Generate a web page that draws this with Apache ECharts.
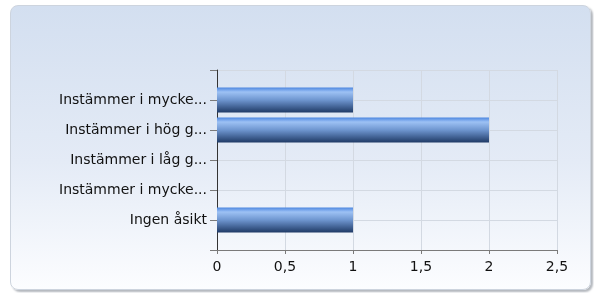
<!DOCTYPE html>
<html>
<head>
<meta charset="utf-8">
<script src="https://cdn.jsdelivr.net/npm/echarts@6/dist/echarts.min.js"></script>
<style>
    html, body { margin: 0; padding: 0; background: #fff; }
    #panel {
        position: absolute; left: 10px; top: 5px; width: 579px; height: 283px;
        border: 1px solid #cdd4de; border-radius: 8px;
        background: linear-gradient(to bottom, #d3dff0 0%, #e4ebf6 55%, #fcfdff 100%);
        box-shadow: 2px 2px 2px #b4b8be;
    }
    #chart { position: absolute; left: 0; top: 0; width: 594px; height: 293px; }
</style>
</head>
<body>
<div id="panel"></div>
<div id="chart"></div>
<script type="text/javascript">
    // kategorier (tomma platser överst/underst ger luft som i originalet)
    var categories = ['', 'Instämmer i mycke...', 'Instämmer i hög g...', 'Instämmer i låg g...', 'Instämmer i mycke...', 'Ingen åsikt', ''];
    var values = ['-', 1, 2, 0, 0, 1, '-'];
    var xTicks = ['0', '0,5', '1', '1,5', '2', '2,5'];

    var chart = echarts.init(document.getElementById('chart'));
    var font = 'Verdana, "DejaVu Sans", sans-serif';

    var option = {
        animation: false,
        grid: { left: 217, right: 37, top: 70, bottom: 43 },
        xAxis: {
            type: 'value',
            min: 0,
            max: 2.5,
            interval: 0.5,
            axisLine: { show: true, lineStyle: { color: '#7a7a7a' } },
            axisTick: { show: true, length: 4, lineStyle: { color: '#7a7a7a' } },
            axisLabel: {
                color: '#111', fontFamily: font, fontSize: 14, margin: 10,
                formatter: function (v) { return xTicks[Math.round(v * 2)]; }
            },
            splitLine: { show: true, lineStyle: { color: '#d3d9e2' } }
        },
        yAxis: {
            type: 'category',
            inverse: true,
            boundaryGap: false,
            data: categories,
            axisLine: { show: true, lineStyle: { color: '#333' } },
            axisTick: { show: true, length: 7, interval: 0, lineStyle: { color: '#7a7a7a' } },
            axisLabel: { color: '#111', fontFamily: font, fontSize: 14, margin: 10, interval: 0 },
            splitLine: { show: true, interval: 0, lineStyle: { color: '#d3d9e2' } }
        },
        series: [{
            type: 'bar',
            data: values,
            barWidth: 25,
            itemStyle: {
                borderWidth: 0,
                color: new echarts.graphic.LinearGradient(0, 0, 0, 1, [
                    { offset: 0, color: '#4d87e0' },
                    { offset: 0.18, color: '#9dc1f4' },
                    { offset: 0.5, color: '#6e95cf' },
                    { offset: 1, color: '#1f3a66' }
                ])
            }
        }]
    };
    chart.setOption(option);
</script>
</body>
</html>
